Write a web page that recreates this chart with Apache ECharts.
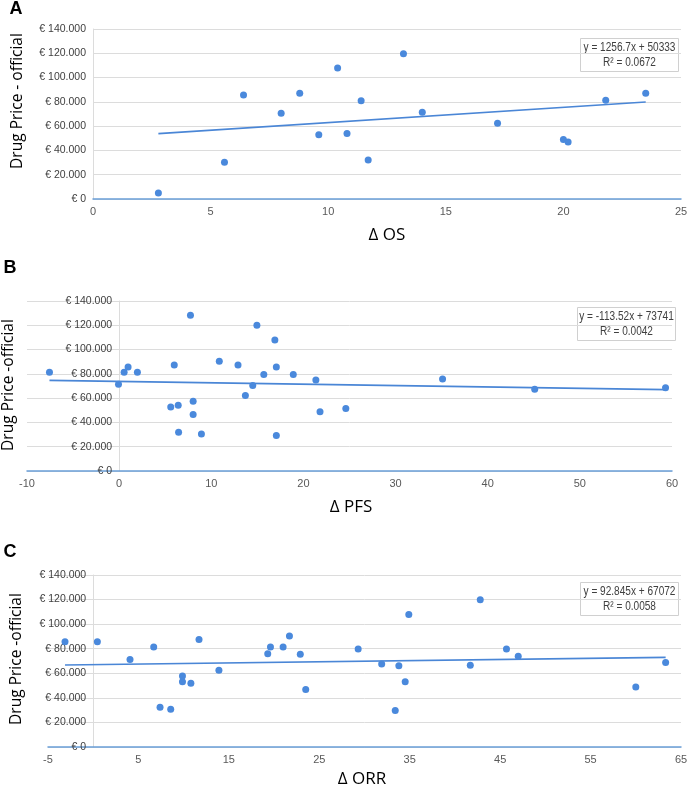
<!DOCTYPE html>
<html>
<head>
<meta charset="utf-8">
<title>Drug price vs clinical benefit</title>
<script src="https://cdn.jsdelivr.net/npm/echarts@6/dist/echarts.min.js"></script>
<style>
  html, body { margin: 0; padding: 0; background: #fff; }
  #chart { width: 688px; height: 790px; }
</style>
</head>
<body>
<div id="chart"></div>
<script>
// panel A: delta OS vs price
const osX = [2.78, 5.59, 6.4, 8.0, 8.79, 9.6, 10.4, 10.8, 11.4, 11.7, 13.2, 14.0, 17.2, 20.0, 20.2, 21.8, 23.5];
const osPrice = [5000, 30300, 85700, 70600, 87100, 52900, 107800, 54000, 81000, 32200, 119600, 71400, 62300, 49000, 46900, 81300, 87100];
const osFit = { slope: 1256.7, intercept: 50333, label: 'y = 1256.7x + 50333', r2: 'R² = 0.0672' };

// panel B: delta PFS vs price
const pfsX = [-7.56, -0.07, 0.54, 0.97, 1.98, 5.6, 5.98, 6.41, 6.45, 7.74, 8.03, 8.03, 8.93, 10.87, 12.9, 13.7, 14.5,
  14.95, 15.7, 16.9, 17.06, 17.06, 18.9, 21.35, 21.8, 24.6, 35.1, 45.1, 59.3];
const pfsPrice = [81300, 71500, 81300, 85700, 81300, 52800, 87300, 54200, 32000, 128200, 57500, 46600, 30400, 90400, 87300, 62200, 70400,
  120000, 79400, 107900, 85700, 29300, 79400, 75000, 48700, 51500, 75800, 67400, 68500];
const pfsFit = { slope: -113.52, intercept: 73741, label: 'y = -113.52x + 73741', r2: 'R² = 0.0042' };

// panel C: delta ORR vs price
const orrX = [-3.12, 0.46, 4.07, 6.69, 7.39, 8.57, 9.87, 9.87, 10.8, 11.7, 13.9, 19.3, 19.6, 21.0, 21.7, 22.9, 23.5,
  29.3, 31.9, 33.4, 33.8, 34.5, 34.9, 41.7, 42.8, 45.7, 47.0, 60.0, 63.3];
const orrPrice = [85700, 85700, 71300, 81400, 32300, 30700, 57800, 53200, 51800, 87400, 62400, 76000, 81400, 81400, 90400, 75400, 46900,
  79800, 67600, 29800, 66200, 53200, 107900, 66500, 119900, 79800, 73800, 48900, 68700];
const orrFit = { slope: 92.845, intercept: 67072, label: 'y = 92.845x + 67072', r2: 'R² = 0.0058' };

const yTicks = { min: 0, max: 140000, step: 20000 };

const pointColor = '#4a89dc';
const gridColor = '#dcdcdc';
const baseColor = '#6a9fd8';
const labelFont = "'Liberation Sans', Arial, sans-serif";
const sans = "'Open Sans', 'Noto Sans', sans-serif";

function euro(v) {
  return '€ ' + String(v).replace(/\B(?=(\d{3})+(?!\d))/g, '.');
}
function pairs(xs, ys) {
  return xs.map((x, i) => [x, ys[i]]);
}
function fitLine(xs, fit) {
  const lo = Math.min(...xs), hi = Math.max(...xs);
  return [[lo, fit.slope * lo + fit.intercept], [hi, fit.slope * hi + fit.intercept]];
}

const panels = [
  { xs: osX, ys: osPrice, fit: osFit, xmin: 0, xmax: 25, step: 5,
    grid: { left: 93, top: 29, width: 588, height: 170 } },
  { xs: pfsX, ys: pfsPrice, fit: pfsFit, xmin: -10, xmax: 60, step: 10,
    grid: { left: 27, top: 301, width: 645, height: 170 } },
  { xs: orrX, ys: orrPrice, fit: orrFit, xmin: -5, xmax: 65, step: 10,
    grid: { left: 48, top: 575, width: 633, height: 172 } },
];

const chart = echarts.init(document.getElementById('chart'), null, { renderer: 'canvas' });

const grid = [], xAxis = [], yAxis = [], series = [];
panels.forEach((p, i) => {
  grid.push(Object.assign({ containLabel: false, outerBoundsMode: 'none' }, p.grid));
  // y axis sits on x = 0, like the original Excel chart
  const shift = (0 - p.xmin) / (p.xmax - p.xmin) * p.grid.width;
  xAxis.push({
    type: 'value', gridIndex: i, min: p.xmin, max: p.xmax, interval: p.step,
    axisLine: { show: true, onZero: true, lineStyle: { color: baseColor, width: 1.5 } },
    axisTick: { show: false },
    splitLine: { show: false },
    axisLabel: { color: '#595959', fontFamily: labelFont, fontSize: 11, margin: 7 }
  });
  yAxis.push({
    type: 'value', gridIndex: i, min: yTicks.min, max: yTicks.max, interval: yTicks.step,
    offset: -shift,
    axisLine: { show: true, onZero: false, lineStyle: { color: gridColor } },
    axisTick: { show: false },
    splitLine: { show: true, lineStyle: { color: gridColor } },
    axisLabel: { color: '#404040', fontFamily: labelFont, fontSize: 10.5, margin: 7, formatter: euro }
  });
  series.push({
    type: 'scatter', xAxisIndex: i, yAxisIndex: i,
    data: pairs(p.xs, p.ys),
    symbolSize: 7,
    itemStyle: { color: pointColor, opacity: 1 },
    z: 3
  });
  series.push({
    type: 'line', xAxisIndex: i, yAxisIndex: i,
    data: fitLine(p.xs, p.fit),
    showSymbol: false,
    lineStyle: { color: '#4a86d6', width: 1.6 },
    z: 2
  });
});

function eqBox(x, y, fit) {
  return {
    type: 'group', left: x, top: y,
    children: [
      { type: 'rect', shape: { x: 0, y: 0, width: 98, height: 33 },
        style: { fill: '#fff', stroke: '#d0d0d0', lineWidth: 1 } },
      { type: 'text', x: 49, y: 3, scaleX: 0.84,
        style: { text: fit.label, textAlign: 'center', fill: '#404040', font: '12px ' + labelFont } },
      { type: 'text', x: 49, y: 18, scaleX: 0.84,
        style: { text: fit.r2, textAlign: 'center', fill: '#404040', font: '12px ' + labelFont } }
    ]
  };
}
function yName(cx, cy, text) {
  return { type: 'text', x: cx, y: cy, rotation: Math.PI / 2,
    style: { text: text, textAlign: 'center', textVerticalAlign: 'middle', fill: '#000', font: '15.5px ' + sans } };
}
function xName(cx, cy, text) {
  return { type: 'text', x: cx, y: cy,
    style: { text: text, textAlign: 'center', textVerticalAlign: 'middle', fill: '#000', font: '17px ' + sans } };
}
function letter(cx, cy, text) {
  return { type: 'text', x: cx, y: cy,
    style: { text: text, textAlign: 'center', textVerticalAlign: 'middle', fill: '#000',
      font: 'bold 18px "Liberation Sans", Arial, sans-serif' } };
}

chart.setOption({
  animation: false,
  backgroundColor: '#fff',
  grid: grid,
  xAxis: xAxis,
  yAxis: yAxis,
  series: series,
  graphic: [
    letter(16, 9, 'A'),
    letter(10, 268, 'B'),
    letter(10, 552, 'C'),
    yName(18, 101, 'Drug Price - official'),
    yName(9, 385, 'Drug Price -official'),
    yName(17, 659, 'Drug Price -official'),
    xName(387, 235, 'Δ OS'),
    xName(351, 507, 'Δ PFS'),
    xName(362, 779, 'Δ ORR'),
    eqBox(580, 38, osFit),
    eqBox(577, 307, pfsFit),
    eqBox(580, 582, orrFit)
  ]
});
</script>
</body>
</html>
